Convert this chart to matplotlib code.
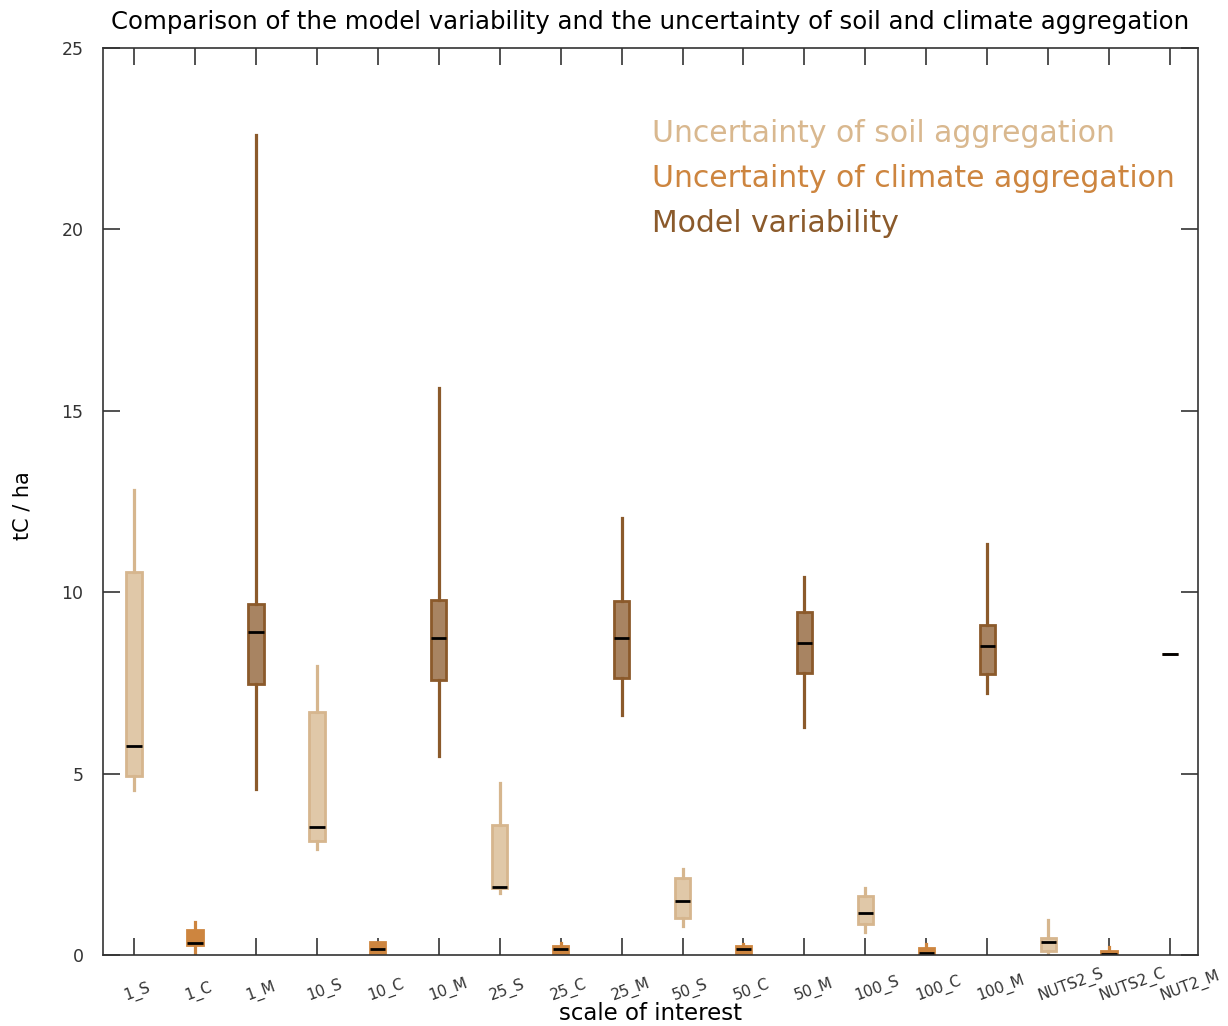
import matplotlib
matplotlib.use("Agg")
import matplotlib.pyplot as plt

# category labels and box statistics (tC / ha)
labels = ["1_S", "1_C", "1_M", "10_S", "10_C", "10_M", "25_S", "25_C", "25_M",
          "50_S", "50_C", "50_M", "100_S", "100_C", "100_M",
          "NUTS2_S", "NUTS2_C", "NUT2_M"]
kinds = ["S", "C", "M"] * 6
whisker_low = [4.55, 0.0, 4.58, 2.92, 0.0, 5.49, 1.71, 0.0, 6.62,
               0.81, 0.0, 6.28, 0.63, 0.0, 7.22, 0.0, 0.0, 8.30]
q1 = [4.93, 0.27, 7.47, 3.14, 0.06, 7.58, 1.85, 0.04, 7.63,
      1.03, 0.04, 7.77, 0.85, 0.0, 7.75, 0.12, 0.0, 8.30]
median = [5.76, 0.34, 8.90, 3.53, 0.17, 8.74, 1.87, 0.17, 8.74,
          1.49, 0.17, 8.60, 1.15, 0.06, 8.52, 0.36, 0.02, 8.30]
q3 = [10.56, 0.68, 9.67, 6.70, 0.35, 9.78, 3.58, 0.26, 9.76,
      2.12, 0.24, 9.45, 1.64, 0.20, 9.10, 0.47, 0.11, 8.30]
whisker_high = [12.82, 0.90, 22.60, 7.97, 0.36, 15.63, 4.74, 0.34, 12.05,
                2.37, 0.31, 10.42, 1.84, 0.31, 11.33, 0.96, 0.23, 8.30]

legend_labels = {
    "S": "Uncertainty of soil aggregation",
    "C": "Uncertainty of climate aggregation",
    "M": "Model variability",
}
face = {"S": "#e0c8a8", "C": "#cd853f", "M": "#a88462"}
edge = {"S": "#d6b68e", "C": "#cd853f", "M": "#8b5a2b"}
text_col = {"S": "#d9b88f", "C": "#cd853f", "M": "#8b5a2b"}


def build_stats():
    stats = []
    for i, lab in enumerate(labels):
        stats.append({
            "label": lab, "whislo": whisker_low[i], "q1": q1[i], "med": median[i],
            "q3": q3[i], "whishi": whisker_high[i], "fliers": [],
        })
    return stats


def plot():
    fig = plt.figure(figsize=(12.28, 10.26), dpi=100)
    ax = fig.add_axes([0.0839, 0.0692, 0.8917, 0.884])
    stats = build_stats()
    positions = list(range(1, len(labels) + 1))

    for kind in ["S", "C", "M"]:
        idx = [i for i, k in enumerate(kinds) if k == kind]
        ax.bxp([stats[i] for i in idx], positions=[positions[i] for i in idx],
               widths=0.25, patch_artist=True, showcaps=False,
               boxprops=dict(facecolor=face[kind], edgecolor=edge[kind], linewidth=2),
               whiskerprops=dict(color=edge[kind], linewidth=2.3),
               medianprops=dict(color="black", linewidth=2),
               manage_ticks=False)

    ax.set_xlim(0.49, 18.46)
    ax.set_ylim(0, 25)
    ax.set_yticks([0, 5, 10, 15, 20, 25])
    # major ticks carry the marks, minor ticks (slightly to the left) carry the labels
    ax.set_xticks(positions)
    ax.set_xticklabels([])
    ax.set_xticks([p - 0.2 for p in positions], minor=True)
    ax.set_xticklabels(labels, minor=True, rotation=20, fontsize=11, color="#333333",
                       ha="left", va="top", rotation_mode="anchor")
    ax.tick_params(axis="both", direction="in", length=12, width=1.2,
                   top=True, right=True, colors="#333333", labelcolor="#333333")
    ax.tick_params(axis="x", which="minor", length=0, top=False, pad=24.5)
    ax.tick_params(axis="y", labelsize=12.5, pad=14)
    for sp in ax.spines.values():
        sp.set_color("#333333")
        sp.set_linewidth(1.2)

    ax.set_title("Comparison of the model variability and the uncertainty of soil and climate aggregation",
                 fontsize=17.6, pad=14)
    ax.set_xlabel("scale of interest", fontsize=16.5)
    ax.xaxis.set_label_coords(0.5, -0.052)
    ax.set_ylabel("tC / ha", fontsize=15)
    ax.yaxis.set_label_coords(-0.064, 0.496)

    for j, kind in enumerate(["S", "C", "M"]):
        ax.text(0.501, 0.906 - j * 0.05, legend_labels[kind], transform=ax.transAxes,
                fontsize=21.5, color=text_col[kind], va="center", ha="left")

    fig.savefig("out.png", dpi=100)


def main():
    plot()


if __name__ == "__main__":
    main()
